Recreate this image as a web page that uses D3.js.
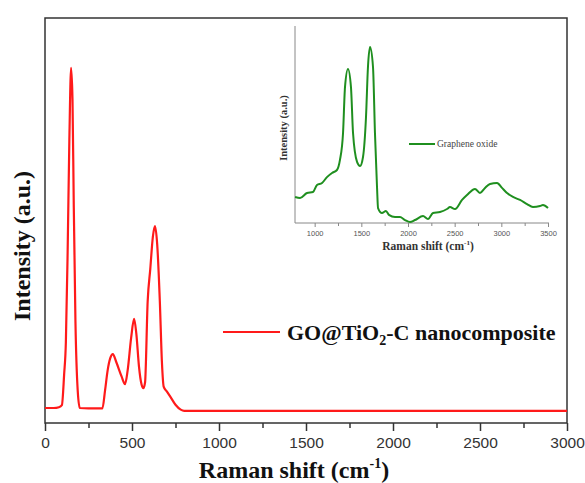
<!DOCTYPE html>
<html>
<head>
<meta charset="utf-8">
<script src="https://cdn.jsdelivr.net/npm/d3@7"></script>
<style>
  body { margin: 0; background: #fff; }
  svg { display: block; }
</style>
</head>
<body>
<div id="chart"></div>
<script>
// Main spectrum: GO@TiO2-C nanocomposite (Raman shift, intensity a.u.)
const mainShift = [0, 50, 80, 97, 110, 120, 130, 140, 150, 158, 165, 175, 188, 200, 250, 330,
  345, 360, 375, 390, 410, 440, 460, 475, 495, 512, 525, 540, 555, 565, 575, 590, 605, 620,
  632, 645, 660, 672, 682, 700, 720, 750, 780, 800, 3000];
const mainIntensity = [37, 37, 39, 44, 120, 200, 420, 700, 877, 800, 550, 250, 80, 37, 36, 36,
  80, 130, 160, 170, 150, 115, 96, 130, 210, 257, 220, 140, 95, 86, 100, 300, 380, 460,
  486, 440, 300, 150, 90, 78, 65, 45, 33, 30, 30];

// Inset spectrum: graphene oxide
const goShift = [790, 843, 918, 982, 1025, 1079, 1132, 1186, 1239, 1271, 1304, 1325, 1357, 1389,
  1411, 1454, 1486, 1518, 1550, 1571, 1593, 1625, 1646, 1668, 1679, 1721, 1764, 1796, 1861,
  1914, 1968, 2021, 2075, 2161, 2214, 2268, 2343, 2418, 2450, 2504, 2579, 2632, 2718, 2771,
  2825, 2879, 2954, 3007, 3061, 3125, 3200, 3275, 3339, 3414, 3446, 3500];
const goIntensity = [12.7, 12.2, 14.7, 15.2, 18.8, 19.8, 22.8, 24.9, 26.4, 31.5, 45.2, 68.5, 77.7,
  68.5, 45.2, 30.5, 28.4, 33.0, 53.3, 78.7, 88.8, 78.7, 45.2, 17.8, 7.1, 4.6, 5.6, 3.6, 2.5,
  2.5, 1.0, 0, 1.0, 3.0, 1.5, 4.6, 5.1, 6.6, 7.6, 6.6, 11.2, 13.7, 16.8, 14.7,
  17.3, 19.3, 19.8, 17.3, 14.7, 12.7, 11.2, 9.1, 7.6, 8.1, 8.6, 7.1];

const mainTicks = [0, 500, 1000, 1500, 2000, 2500, 3000];
const insetTicks = [1000, 1500, 2000, 2500, 3000, 3500];

const W = 585, H = 483;
const serif = "'Liberation Serif', 'Times New Roman', serif";
const sans = "'Liberation Sans', Arial, sans-serif";

const svg = d3.select('#chart').append('svg')
  .attr('width', W).attr('height', H);

// Main plot area
const plot = { left: 45, right: 567, top: 18, bottom: 423 };
const x = d3.scaleLinear().domain([0, 3000]).range([plot.left, plot.right]);
const y = d3.scaleLinear().domain([0, 1000]).range([plot.bottom, plot.top]);

// Frame
svg.append('rect')
  .attr('x', plot.left).attr('y', plot.top)
  .attr('width', plot.right - plot.left).attr('height', plot.bottom - plot.top)
  .attr('fill', 'none').attr('stroke', '#333').attr('stroke-width', 1.5);

// Minor ticks
svg.append('g')
  .attr('transform', `translate(0,${plot.bottom})`)
  .call(d3.axisBottom(x).tickValues(d3.range(250, 3000, 500)).tickSize(5).tickFormat(''))
  .call(g => g.select('.domain').remove())
  .call(g => g.selectAll('line').attr('stroke', '#333').attr('stroke-width', 1.5));

// Major ticks + labels
svg.append('g')
  .attr('transform', `translate(0,${plot.bottom})`)
  .call(d3.axisBottom(x).tickValues(mainTicks).tickSize(8).tickPadding(6).tickFormat(d3.format('d')))
  .call(g => g.select('.domain').remove())
  .call(g => g.selectAll('line').attr('stroke', '#333').attr('stroke-width', 1.5))
  .call(g => g.selectAll('text').attr('font-family', sans).attr('font-size', 15.5).attr('fill', '#333'));

// Red spectrum
const mainData = mainShift.map((s, i) => ({ s, v: mainIntensity[i] }));
const line = d3.line().x(d => x(d.s)).y(d => y(d.v)).curve(d3.curveMonotoneX);
svg.append('path')
  .datum(mainData)
  .attr('fill', 'none')
  .attr('stroke', '#ff1a1a')
  .attr('stroke-width', 2.2)
  .attr('d', line);

// Axis titles
const xTitle = svg.append('text')
  .attr('x', 294).attr('y', 478)
  .attr('text-anchor', 'middle')
  .attr('font-family', serif).attr('font-weight', 'bold').attr('font-size', 24)
  .attr('fill', '#111');
xTitle.append('tspan').text('Raman shift (cm');
xTitle.append('tspan').text('-1').attr('font-size', 14).attr('dy', -10);
xTitle.append('tspan').text(')').attr('dy', 10);

svg.append('text')
  .attr('transform', 'translate(30,246) rotate(-90)')
  .attr('text-anchor', 'middle')
  .attr('font-family', serif).attr('font-weight', 'bold').attr('font-size', 24)
  .attr('fill', '#111')
  .text('Intensity (a.u.)');

// Legend
svg.append('line')
  .attr('x1', 223).attr('x2', 280).attr('y1', 332).attr('y2', 332)
  .attr('stroke', '#ff1a1a').attr('stroke-width', 2.2);
const leg = svg.append('text')
  .attr('x', 287).attr('y', 340)
  .attr('font-family', serif).attr('font-weight', 'bold').attr('font-size', 22)
  .attr('fill', '#111');
leg.append('tspan').text('GO@TiO');
leg.append('tspan').text('2').attr('font-size', 14).attr('dy', 5);
leg.append('tspan').text('-C nanocomposite').attr('dy', -5);

// Inset
const ix = d3.scaleLinear().domain([800, 3500]).range([296, 548]);
const iy = d3.scaleLinear().domain([0, 100]).range([222, 25]);
const insetBottom = 223;

svg.append('line')
  .attr('x1', 295).attr('x2', 295).attr('y1', 26).attr('y2', insetBottom)
  .attr('stroke', '#888').attr('stroke-width', 1);

svg.append('g')
  .attr('transform', `translate(0,${insetBottom})`)
  .call(d3.axisBottom(ix).tickValues(d3.range(1250, 3500, 500)).tickSize(3).tickFormat(''))
  .call(g => g.select('.domain').attr('stroke', '#888').attr('d', `M295,0H549`))
  .call(g => g.selectAll('line').attr('stroke', '#888'));

svg.append('g')
  .attr('transform', `translate(0,${insetBottom})`)
  .call(d3.axisBottom(ix).tickValues(insetTicks).tickSize(4).tickPadding(4).tickFormat(d3.format('d')))
  .call(g => g.select('.domain').remove())
  .call(g => g.selectAll('line').attr('stroke', '#888'))
  .call(g => g.selectAll('text').attr('font-family', sans).attr('font-size', 7.5).attr('fill', '#555'));

const goData = goShift.map((s, i) => ({ s, v: goIntensity[i] }));
const goLine = d3.line().x(d => ix(d.s)).y(d => iy(d.v)).curve(d3.curveMonotoneX);
svg.append('path')
  .datum(goData)
  .attr('fill', 'none')
  .attr('stroke', '#1f8f1f')
  .attr('stroke-width', 2)
  .attr('d', goLine);

const ixTitle = svg.append('text')
  .attr('x', 428).attr('y', 250)
  .attr('text-anchor', 'middle')
  .attr('font-family', serif).attr('font-weight', 'bold').attr('font-size', 11.5)
  .attr('fill', '#333');
ixTitle.append('tspan').text('Raman shift (cm');
ixTitle.append('tspan').text('-1').attr('font-size', 7).attr('dy', -5);
ixTitle.append('tspan').text(')').attr('dy', 5);

svg.append('text')
  .attr('transform', 'translate(287,128) rotate(-90)')
  .attr('text-anchor', 'middle')
  .attr('font-family', serif).attr('font-weight', 'bold').attr('font-size', 10.5)
  .attr('fill', '#333')
  .text('Intensity (a.u.)');

svg.append('line')
  .attr('x1', 409).attr('x2', 435).attr('y1', 144).attr('y2', 144)
  .attr('stroke', '#1f8f1f').attr('stroke-width', 2);
svg.append('text')
  .attr('x', 437).attr('y', 147)
  .attr('font-family', serif).attr('font-size', 9.5)
  .attr('fill', '#444')
  .text('Graphene oxide');
</script>
</body>
</html>
